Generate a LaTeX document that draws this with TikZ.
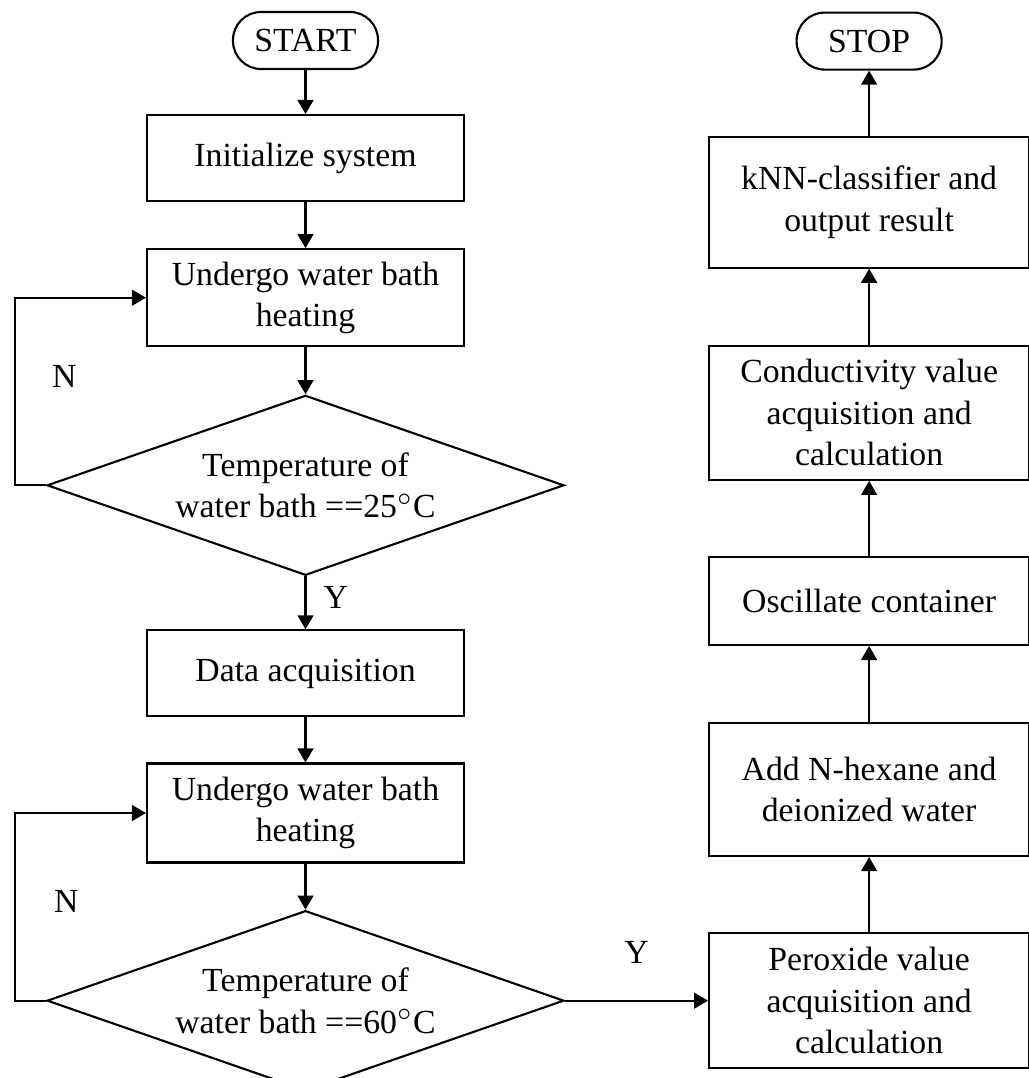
\documentclass[tikz,border=0pt]{standalone}
\usepackage{fontspec}
\setmainfont{Liberation Serif}
\usetikzlibrary{positioning,shapes.geometric,arrows.meta}

\begin{document}
\begin{tikzpicture}[
  box/.style={draw, line width=0.6pt, minimum width=3.17cm,
    minimum height=0.86cm, align=center, inner sep=2pt},
  rbox/.style={box, minimum width=3.2cm, minimum height=1.33cm},
  term/.style={draw, line width=0.6pt, rounded corners=0.28cm,
    minimum width=1.45cm, minimum height=0.57cm, inner sep=0pt},
  cond/.style={draw, line width=0.6pt, diamond, aspect=2.87,
    minimum width=5.17cm, minimum height=1.8cm, inner sep=0pt, align=center},
  lbl/.style={inner sep=0pt},
  arr/.style={-{Triangle[width=4.5pt,length=4pt]}, line width=0.6pt},
  font=\fontsize{9.6}{11.8}\selectfont,
  node distance=0.45cm]
  \useasboundingbox (0,0) rectangle (10.29,-10.78);
  % left column
  \node[term] (start) at (3.055,-0.405) {START};
  \node[box, below=0.44cm of start] (init) {Initialize system};
  \node[box, below=0.46cm of init, minimum height=0.97cm] (heat1) {Undergo water bath\\heating};
  \node[cond, below=0.47cm of heat1] (temp1) {Temperature of\\water bath ==25$^{\circ}$C};
  \node[box, below=0.53cm of temp1] (data) {Data acquisition};
  \node[box, below=of data, minimum height=0.99cm] (heat2) {Undergo water bath\\heating};
  \node[cond, below=0.46cm of heat2] (temp2) {Temperature of\\water bath ==60$^{\circ}$C};
  % right column
  \node[rbox, right=1.43cm of temp2, minimum height=1.35cm] (perox) {Peroxide value\\acquisition and\\calculation};
  \node[rbox, above=0.75cm of perox] (hexane) {Add N-hexane and\\deionized water};
  \node[rbox, above=0.76cm of hexane, minimum height=0.88cm] (shake) {Oscillate container};
  \node[rbox, above=0.75cm of shake, minimum height=1.34cm] (conduct) {Conductivity value\\acquisition and\\calculation};
  \node[rbox, above=0.76cm of conduct, minimum height=1.31cm] (knn) {kNN-classifier and\\output result};
  \node[term, above=0.65cm of knn] (stop) {STOP};
  \draw[arr] (start) -- (init);
  \draw[arr] (init) -- (heat1);
  \draw[arr] (heat1) -- (temp1);
  \draw[arr] (temp1) -- node[lbl, right=0.17cm, pos=0.4]{Y} (data);
  \draw[arr] (data) -- (heat2);
  \draw[arr] (heat2) -- (temp2);
  \draw[arr] (temp1.west) -- ++(-0.31,0) |-
    node[lbl, right=0.36cm, pos=0.29]{N} (heat1.west);
  \draw[arr] (temp2.west) -- ++(-0.31,0) |-
    node[lbl, right=0.38cm, pos=0.265]{N} (heat2.west);
  \draw[arr] (temp2.east) -- node[lbl, above=0.36cm]{Y} (perox.west);
  \draw[arr] (perox) -- (hexane);
  \draw[arr] (hexane) -- (shake);
  \draw[arr] (shake) -- (conduct);
  \draw[arr] (conduct) -- (knn);
  \draw[arr] (knn) -- (stop);
\end{tikzpicture}
\end{document}
